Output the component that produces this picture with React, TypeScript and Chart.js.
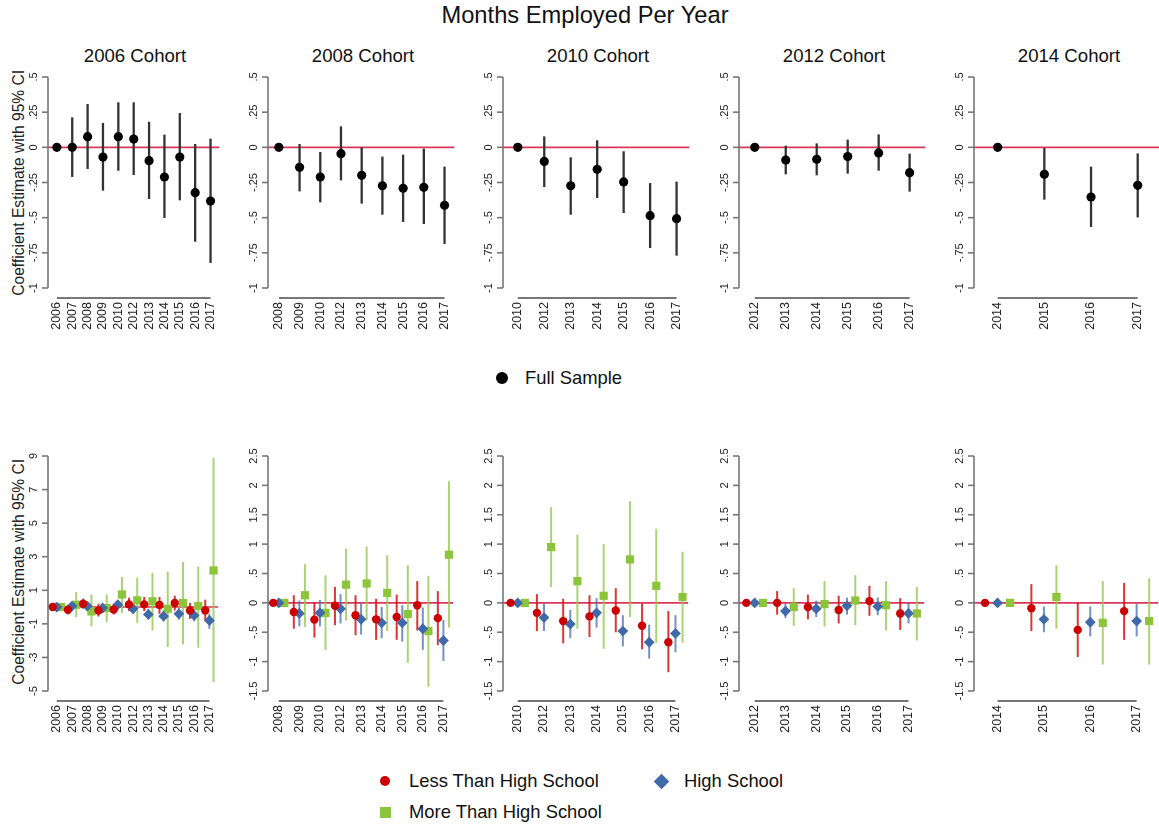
import React, { useEffect, useRef } from "react";
import { Chart, registerables } from "chart.js";
Chart.register(...registerables);

// ---------------- text ----------------
const mainTitle = "Months Employed Per Year";
const cohortTitles = ["2006 Cohort", "2008 Cohort", "2010 Cohort", "2012 Cohort", "2014 Cohort"];
const yAxisTitle = "Coefficient Estimate with 95% CI";
const legendTop = ["Full Sample"];
const legendBottom = ["Less Than High School", "High School", "More Than High School"];

// ---------------- categories ----------------
const years2006 = ["2006", "2007", "2008", "2009", "2010", "2012", "2013", "2014", "2015", "2016", "2017"];
const years2008 = ["2008", "2009", "2010", "2012", "2013", "2014", "2015", "2016", "2017"];
const years2010 = ["2010", "2012", "2013", "2014", "2015", "2016", "2017"];
const years2012 = ["2012", "2013", "2014", "2015", "2016", "2017"];
const years2014 = ["2014", "2015", "2016", "2017"];

// ---------------- tick labels ----------------
const topTicks = [-1, -0.75, -0.5, -0.25, 0, 0.25, 0.5];
const topTickLabels = ["-1", "-.75", "-.5", "-.25", "0", ".25", ".5"];
const bottomTicks2006 = [-5, -3, -1, 1, 3, 5, 7, 9];
const bottomTickLabels2006 = ["-5", "-3", "-1", "1", "3", "5", "7", "9"];
const bottomTicks = [-1.5, -1, -0.5, 0, 0.5, 1, 1.5, 2, 2.5];
const bottomTickLabels = ["-1.5", "-1", "-.5", "0", ".5", "1", "1.5", "2", "2.5"];

// ---------------- full sample ----------------
const full2006 = [0, 0, 0.076, -0.069, 0.076, 0.059, -0.095, -0.211, -0.069, -0.322, -0.382];
const full2006Lo = [null, -0.211, -0.154, -0.308, -0.166, -0.197, -0.367, -0.502, -0.377, -0.671, -0.822];
const full2006Hi = [null, 0.213, 0.308, 0.173, 0.32, 0.32, 0.182, 0.09, 0.244, 0.024, 0.062];
const full2008 = [0, -0.142, -0.211, -0.045, -0.199, -0.273, -0.291, -0.284, -0.412];
const full2008Lo = [null, -0.313, -0.391, -0.235, -0.4, -0.479, -0.531, -0.545, -0.687];
const full2008Hi = [null, 0.024, -0.033, 0.149, 0, -0.066, -0.052, -0.009, -0.137];
const full2010 = [0, -0.1, -0.273, -0.156, -0.246, -0.486, -0.507];
const full2010Lo = [null, -0.282, -0.479, -0.36, -0.467, -0.716, -0.77];
const full2010Hi = [null, 0.078, -0.071, 0.05, -0.028, -0.254, -0.244];
const full2012 = [0, -0.09, -0.085, -0.066, -0.04, -0.18];
const full2012Lo = [null, -0.192, -0.199, -0.187, -0.166, -0.315];
const full2012Hi = [null, 0.012, 0.028, 0.055, 0.092, -0.045];
const full2014 = [0, -0.192, -0.353, -0.27];
const full2014Lo = [null, -0.372, -0.566, -0.498];
const full2014Hi = [null, -0.005, -0.137, -0.043];

// ---------------- by education: 2006 cohort ----------------
const lths2006 = [0, -0.16, 0.2, -0.2, -0.14, 0.16, 0.16, 0.12, 0.24, -0.2, -0.2];
const lths2006Lo = [null, -0.44, -0.1, -0.56, -0.44, -0.24, -0.24, -0.4, -0.2, -0.7, -0.8];
const lths2006Hi = [null, 0.1, 0.5, 0.2, 0.2, 0.56, 0.6, 0.6, 0.68, 0.24, 0.44];
const hs2006 = [0, 0.06, 0.06, -0.06, 0.14, -0.1, -0.44, -0.54, -0.4, -0.5, -0.8];
const hs2006Lo = [null, -0.2, -0.2, -0.35, -0.15, -0.4, -0.75, -0.85, -0.75, -0.85, -1.3];
const hs2006Hi = [null, 0.3, 0.3, 0.25, 0.4, 0.2, -0.1, -0.2, -0.05, -0.15, -0.4];
const mths2006 = [0, 0.14, -0.26, -0.06, 0.75, 0.4, 0.34, -0.1, 0.24, 0.06, 2.18];
const mths2006Lo = [null, -0.6, -1.15, -0.9, -0.36, -0.93, -1.39, -2.38, -2.22, -2.42, -4.47];
const mths2006Hi = [null, 0.9, 0.75, 0.75, 1.79, 1.75, 2.03, 2.12, 2.68, 2.42, 8.9];

// ---------------- 2008 cohort ----------------
const lths2008 = [0, -0.155, -0.285, -0.05, -0.21, -0.28, -0.24, -0.04, -0.26];
const lths2008Lo = [null, -0.44, -0.59, -0.38, -0.55, -0.63, -0.63, -0.47, -0.72];
const lths2008Hi = [null, 0.13, 0.01, 0.27, 0.13, 0.07, 0.14, 0.37, 0.2];
const hs2008 = [0, -0.18, -0.17, -0.1, -0.28, -0.34, -0.34, -0.44, -0.64];
const hs2008Lo = [null, -0.4, -0.4, -0.35, -0.54, -0.6, -0.66, -0.8, -0.99];
const hs2008Hi = [null, 0.04, 0.05, 0.15, -0.01, -0.07, -0.04, -0.08, -0.29];
const mths2008 = [0, 0.13, -0.17, 0.31, 0.33, 0.17, -0.19, -0.48, 0.82];
const mths2008Lo = [null, -0.41, -0.8, -0.3, -0.3, -0.48, -1.02, -1.43, -0.42];
const mths2008Hi = [null, 0.66, 0.47, 0.92, 0.96, 0.81, 0.64, 0.46, 2.07];

// ---------------- 2010 cohort ----------------
const lths2010 = [0, -0.17, -0.31, -0.23, -0.13, -0.39, -0.67];
const lths2010Lo = [null, -0.48, -0.69, -0.58, -0.5, -0.79, -1.18];
const lths2010Hi = [null, 0.15, 0.07, 0.13, 0.25, -0.01, -0.14];
const hs2010 = [0, -0.25, -0.36, -0.17, -0.48, -0.67, -0.52];
const hs2010Lo = [null, -0.48, -0.6, -0.42, -0.74, -0.95, -0.84];
const hs2010Hi = [null, -0.01, -0.12, 0.08, -0.21, -0.37, -0.21];
const mths2010 = [0, 0.95, 0.37, 0.12, 0.74, 0.29, 0.1];
const mths2010Lo = [null, 0.27, -0.44, -0.78, -0.24, -0.68, -0.68];
const mths2010Hi = [null, 1.63, 1.16, 1.0, 1.73, 1.26, 0.87];

// ---------------- 2012 cohort ----------------
const lths2012 = [0, 0, -0.07, -0.12, 0.03, -0.18];
const lths2012Lo = [null, -0.2, -0.28, -0.35, -0.22, -0.46];
const lths2012Hi = [null, 0.2, 0.14, 0.12, 0.29, 0.08];
const hs2012 = [0, -0.14, -0.1, -0.05, -0.06, -0.18];
const hs2012Lo = [null, -0.26, -0.24, -0.2, -0.21, -0.35];
const hs2012Hi = [null, -0.01, 0.04, 0.09, 0.09, 0];
const mths2012 = [0, -0.07, -0.02, 0.04, -0.04, -0.18];
const mths2012Lo = [null, -0.39, -0.4, -0.38, -0.47, -0.64];
const mths2012Hi = [null, 0.25, 0.37, 0.47, 0.37, 0.27];

// ---------------- 2014 cohort ----------------
const lths2014 = [0, -0.09, -0.46, -0.14];
const lths2014Lo = [null, -0.48, -0.92, -0.63];
const lths2014Hi = [null, 0.32, 0, 0.34];
const hs2014 = [0, -0.28, -0.33, -0.31];
const hs2014Lo = [null, -0.5, -0.57, -0.57];
const hs2014Hi = [null, -0.06, -0.06, -0.02];
const mths2014 = [0, 0.1, -0.34, -0.31];
const mths2014Lo = [null, -0.44, -1.05, -1.05];
const mths2014Hi = [null, 0.64, 0.37, 0.42];

// ---------------- styling / layout ----------------
const FONT = '"Liberation Sans", Arial, Helvetica, sans-serif';
const ZERO_COLOR = "#d9365a";
const AXIS_COLOR = "#777777";
const TEXT_COLOR = "#222222";

const BLACK = { color: "#000000", ci: "#333333", shape: "circle", radius: 4.6 };
const RED = { color: "#cc0000", ci: "rgba(210,20,20,0.85)", shape: "circle", radius: 4.2 };
const BLUE = { color: "#3f69a8", ci: "rgba(70,110,175,0.75)", shape: "rectRot", radius: 5.4 };
const GREEN = { color: "#8cc43c", ci: "rgba(150,200,80,0.8)", shape: "rect", radius: 5.8 };

const COLS = [
  { axisX: 48, lineEnd: 222, firstX: 57, lastX: 213, titleX: 135 },
  { axisX: 268, lineEnd: 457, firstX: 279, lastX: 447, titleX: 363 },
  { axisX: 503, lineEnd: 692, firstX: 518, lastX: 679, titleX: 598 },
  { axisX: 739, lineEnd: 928, firstX: 755, lastX: 912, titleX: 834 },
  { axisX: 974, lineEnd: 1162, firstX: 998, lastX: 1140, titleX: 1069 },
];
const ROWS = {
  top: { areaTop: 77, areaBottom: 288, xAxisY: 298, lineW: 2 },
  bottom: { areaTop: 456, areaBottom: 691, xAxisY: 701, lineW: 2 },
};

type Ser = { values: number[]; lo: (number | null)[]; hi: (number | null)[]; style: any; dodge: number };
type Spec = { col: number; row: "top" | "bottom"; years: string[]; ticks: number[]; tickLabels: string[]; series: Ser[] };

const topSpecs: Spec[] = [
  { col: 0, row: "top", years: years2006, ticks: topTicks, tickLabels: topTickLabels, series: [{ values: full2006, lo: full2006Lo, hi: full2006Hi, style: BLACK, dodge: 0 }] },
  { col: 1, row: "top", years: years2008, ticks: topTicks, tickLabels: topTickLabels, series: [{ values: full2008, lo: full2008Lo, hi: full2008Hi, style: BLACK, dodge: 0 }] },
  { col: 2, row: "top", years: years2010, ticks: topTicks, tickLabels: topTickLabels, series: [{ values: full2010, lo: full2010Lo, hi: full2010Hi, style: BLACK, dodge: 0 }] },
  { col: 3, row: "top", years: years2012, ticks: topTicks, tickLabels: topTickLabels, series: [{ values: full2012, lo: full2012Lo, hi: full2012Hi, style: BLACK, dodge: 0 }] },
  { col: 4, row: "top", years: years2014, ticks: topTicks, tickLabels: topTickLabels, series: [{ values: full2014, lo: full2014Lo, hi: full2014Hi, style: BLACK, dodge: 0 }] },
];

const D = 0.27;
const edu = (a: number[], aLo: any[], aHi: any[], b: number[], bLo: any[], bHi: any[], c: number[], cLo: any[], cHi: any[]): Ser[] => [
  { values: a, lo: aLo, hi: aHi, style: RED, dodge: -D },
  { values: b, lo: bLo, hi: bHi, style: BLUE, dodge: 0 },
  { values: c, lo: cLo, hi: cHi, style: GREEN, dodge: D },
];

const bottomSpecs: Spec[] = [
  { col: 0, row: "bottom", years: years2006, ticks: bottomTicks2006, tickLabels: bottomTickLabels2006, series: edu(lths2006, lths2006Lo, lths2006Hi, hs2006, hs2006Lo, hs2006Hi, mths2006, mths2006Lo, mths2006Hi) },
  { col: 1, row: "bottom", years: years2008, ticks: bottomTicks, tickLabels: bottomTickLabels, series: edu(lths2008, lths2008Lo, lths2008Hi, hs2008, hs2008Lo, hs2008Hi, mths2008, mths2008Lo, mths2008Hi) },
  { col: 2, row: "bottom", years: years2010, ticks: bottomTicks, tickLabels: bottomTickLabels, series: edu(lths2010, lths2010Lo, lths2010Hi, hs2010, hs2010Lo, hs2010Hi, mths2010, mths2010Lo, mths2010Hi) },
  { col: 3, row: "bottom", years: years2012, ticks: bottomTicks, tickLabels: bottomTickLabels, series: edu(lths2012, lths2012Lo, lths2012Hi, hs2012, hs2012Lo, hs2012Hi, mths2012, mths2012Lo, mths2012Hi) },
  { col: 4, row: "bottom", years: years2014, ticks: bottomTicks, tickLabels: bottomTickLabels, series: edu(lths2014, lths2014Lo, lths2014Hi, hs2014, hs2014Lo, hs2014Hi, mths2014, mths2014Lo, mths2014Hi) },
];

function Panel({ spec }: { spec: Spec }) {
  const ref = useRef<HTMLCanvasElement>(null);
  const col = COLS[spec.col];
  const row = ROWS[spec.row];
  const left = col.axisX - 48;
  const top = row.areaTop - 12;
  const width = col.lineEnd - left + 2;
  const height = row.xAxisY + 42 - top;

  useEffect(() => {
    const n = spec.years.length;
    const step = (col.lastX - col.firstX) / (n - 1);
    const xMin = -(col.firstX - col.axisX) / step;
    const xMax = n - 1 + (col.lineEnd - col.lastX) / step;
    const yMin = spec.ticks[0];
    const yMax = spec.ticks[spec.ticks.length - 1];

    const plugin = {
      id: "stataPanel",
      beforeDatasetsDraw(chart: any) {
        const { ctx, chartArea: a, scales } = chart;
        const x = scales.x, y = scales.y;
        ctx.save();
        const y0 = y.getPixelForValue(0);
        ctx.strokeStyle = ZERO_COLOR;
        ctx.lineWidth = 1.6;
        ctx.beginPath();
        ctx.moveTo(a.left, y0);
        ctx.lineTo(a.right, y0);
        ctx.stroke();
        ctx.lineCap = "butt";
        spec.series.forEach((s) => {
          ctx.strokeStyle = s.style.ci;
          ctx.lineWidth = spec.row === "top" ? 2.3 : 2;
          s.values.forEach((_, i) => {
            const lo = s.lo[i], hi = s.hi[i];
            if (lo == null || hi == null) return;
            const px = x.getPixelForValue(i + s.dodge);
            ctx.beginPath();
            ctx.moveTo(px, y.getPixelForValue(hi));
            ctx.lineTo(px, y.getPixelForValue(lo));
            ctx.stroke();
          });
        });
        ctx.restore();
      },
      afterDraw(chart: any) {
        const { ctx, chartArea: a, scales } = chart;
        const x = scales.x, y = scales.y;
        ctx.save();
        ctx.strokeStyle = AXIS_COLOR;
        ctx.lineWidth = 1.6;
        // y axis
        ctx.beginPath();
        ctx.moveTo(a.left, y.getPixelForValue(yMax));
        ctx.lineTo(a.left, y.getPixelForValue(yMin));
        ctx.stroke();
        ctx.fillStyle = TEXT_COLOR;
        ctx.font = `11px ${FONT}`;
        spec.ticks.forEach((t, k) => {
          const py = y.getPixelForValue(t);
          ctx.beginPath();
          ctx.moveTo(a.left - 6, py);
          ctx.lineTo(a.left, py);
          ctx.stroke();
          ctx.save();
          ctx.translate(a.left - 14.5, py);
          ctx.rotate(-Math.PI / 2);
          ctx.textAlign = "center";
          ctx.textBaseline = "middle";
          ctx.fillText(spec.tickLabels[k], 0, 0);
          ctx.restore();
        });
        // x axis
        const axY = row.xAxisY - top;
        ctx.lineWidth = row.lineW;
        ctx.beginPath();
        ctx.moveTo(x.getPixelForValue(0), axY);
        ctx.lineTo(x.getPixelForValue(n - 1), axY);
        ctx.stroke();
        ctx.font = `12.5px ${FONT}`;
        spec.years.forEach((yr, i) => {
          const px = x.getPixelForValue(i);
          ctx.save();
          ctx.translate(px, axY + 4);
          ctx.rotate(-Math.PI / 2);
          ctx.textAlign = "right";
          ctx.textBaseline = "middle";
          ctx.fillText(yr, 0, 0);
          ctx.restore();
        });
        ctx.restore();
      },
    };

    const chart = new Chart(ref.current as HTMLCanvasElement, {
      type: "scatter",
      data: {
        datasets: spec.series.map((s) => ({
          data: s.values.map((v, i) => ({ x: i + s.dodge, y: v })),
          pointStyle: s.style.shape,
          pointRadius: s.style.radius,
          pointBackgroundColor: s.style.color,
          pointBorderColor: s.style.color,
          pointBorderWidth: 0,
          showLine: false,
          clip: false as any,
        })),
      },
      options: {
        animation: false,
        responsive: false,
        events: [],
        layout: {
          padding: { left: 48, top: 12, right: width - (col.lineEnd - left), bottom: height - (row.areaBottom - top) },
        },
        plugins: { legend: { display: false }, tooltip: { enabled: false } },
        scales: {
          x: { type: "linear", min: xMin, max: xMax, display: false },
          y: { type: "linear", min: yMin, max: yMax, display: false },
        },
      },
      plugins: [plugin],
    });
    return () => chart.destroy();
  }, []);

  return (
    <canvas
      ref={ref}
      width={width}
      height={height}
      style={{ position: "absolute", left, top, width, height }}
    />
  );
}

function Txt({ x, y, size, children, align = "center" }: any) {
  const w = 400;
  const left = align === "center" ? x - w / 2 : x;
  return (
    <div
      style={{
        position: "absolute",
        left,
        top: y - size / 2,
        width: w,
        height: size,
        lineHeight: `${size}px`,
        fontSize: size,
        textAlign: align,
        whiteSpace: "nowrap",
        color: "#111",
      }}
    >
      {children}
    </div>
  );
}

function VTxt({ x, y, size, children }: any) {
  const w = 400;
  return (
    <div
      style={{
        position: "absolute",
        left: x - w / 2,
        top: y - size / 2,
        width: w,
        height: size,
        lineHeight: `${size}px`,
        fontSize: size,
        textAlign: "center",
        whiteSpace: "nowrap",
        transform: "rotate(-90deg)",
        transformOrigin: "50% 50%",
        color: "#222",
      }}
    >
      {children}
    </div>
  );
}

export default function App() {
  return (
    <div
      style={{
        position: "absolute",
        left: 0,
        top: 0,
        width: 1159,
        height: 827,
        background: "#ffffff",
        overflow: "hidden",
        fontFamily: FONT,
      }}
    >
      <Txt x={585} y={16} size={23.7}>{mainTitle}</Txt>
      {cohortTitles.map((t, i) => (
        <Txt key={t} x={COLS[i].titleX} y={56} size={18.6}>{t}</Txt>
      ))}
      <VTxt x={19} y={183} size={15.6}>{yAxisTitle}</VTxt>
      <VTxt x={19} y={572} size={15.6}>{yAxisTitle}</VTxt>
      {topSpecs.map((s, i) => <Panel key={"t" + i} spec={s} />)}
      {bottomSpecs.map((s, i) => <Panel key={"b" + i} spec={s} />)}

      {/* top legend */}
      <div style={{ position: "absolute", left: 496, top: 372, width: 12, height: 12, borderRadius: 6, background: "#000" }} />
      <Txt x={525} y={378} size={18.4} align="left">{legendTop[0]}</Txt>

      {/* bottom legend */}
      <div style={{ position: "absolute", left: 380, top: 776, width: 10, height: 10, borderRadius: 5, background: RED.color }} />
      <Txt x={409} y={781} size={18.4} align="left">{legendBottom[0]}</Txt>
      <div style={{ position: "absolute", left: 656, top: 775.5, width: 11, height: 11, background: BLUE.color, transform: "rotate(45deg)" }} />
      <Txt x={684} y={781} size={18.4} align="left">{legendBottom[1]}</Txt>
      <div style={{ position: "absolute", left: 379.5, top: 806.5, width: 11, height: 11, background: GREEN.color }} />
      <Txt x={409} y={812} size={18.4} align="left">{legendBottom[2]}</Txt>
    </div>
  );
}
